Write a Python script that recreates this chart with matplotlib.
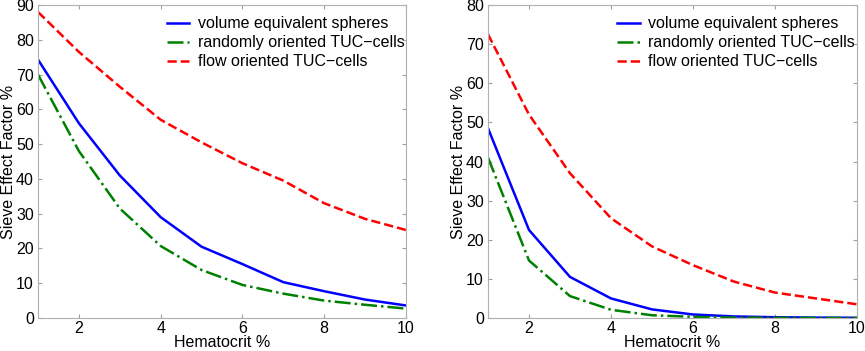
import matplotlib
matplotlib.use("Agg")
import matplotlib.pyplot as plt

plt.rcParams['font.family'] = ['Liberation Sans', 'DejaVu Sans']

hematocrit = [1, 2, 3, 4, 5, 6, 7, 8, 9, 10]

left_spheres = [74.3, 56, 41, 29, 20.5, 15.5, 10.3, 7.7, 5.3, 3.6]
left_random = [70, 48, 31.5, 20.7, 13.8, 9.5, 7, 5, 3.8, 2.7]
left_flow = [88, 76.5, 66.5, 57, 50.5, 44.5, 39.5, 33, 28.5, 25.3]

right_spheres = [48.5, 22.5, 10.5, 5, 2.2, 0.9, 0.4, 0.2, 0.1, 0.05]
right_random = [41, 14.7, 5.6, 2.1, 0.7, 0.3, 0.1, 0.05, 0.02, 0.01]
right_flow = [72.5, 52, 37, 25.5, 18.3, 13.5, 9.3, 6.5, 5, 3.5]

labels = ["volume equivalent spheres", "randomly oriented TUC\u2212cells", "flow oriented TUC\u2212cells"]
xticks = [2, 4, 6, 8, 10]

fig = plt.figure(figsize=(8.65, 3.51), dpi=100)
ax1 = fig.add_axes([38/865, 33/351, 368/865, 313/351])
ax2 = fig.add_axes([488/865, 33/351, 369/865, 313/351])

def style(ax, series, ymax, yticks):
    s, r, f = series
    ax.plot(hematocrit, s, color='#0000ff', lw=1.8, ls='-', label=labels[0])
    ax.plot(hematocrit, r, color='#008000', lw=1.8, ls='-.', label=labels[1])
    ax.plot(hematocrit, f, color='#ff0000', lw=1.8, ls='--', label=labels[2])
    ax.set_xlim(1, 10)
    ax.set_ylim(0, ymax)
    ax.set_xticks(xticks)
    ax.set_yticks(yticks)
    ax.tick_params(direction='in', top=True, right=True, length=3, color='#a0a0a0',
                   labelsize=11.5, labelcolor='black', pad=3)
    ax.tick_params(axis='x', pad=2)
    for sp in ax.spines.values():
        sp.set_color('#b0b0b0')
        sp.set_linewidth(0.8)
    ax.set_xlabel('Hematocrit %', fontsize=11.5, labelpad=-0.5)
    ax.set_ylabel('Sieve Effect Factor %', fontsize=11.5, labelpad=0)
    ax.legend(loc='upper left', bbox_to_anchor=(0.32, 1.0), frameon=False, fontsize=11.5,
              handlelength=1.4, handletextpad=0.55, labelspacing=0.25, borderaxespad=0.3)

style(ax1, (left_spheres, left_random, left_flow), 90, list(range(0, 91, 10)))
style(ax2, (right_spheres, right_random, right_flow), 80, list(range(0, 81, 10)))

fig.savefig('out.png', dpi=100)
